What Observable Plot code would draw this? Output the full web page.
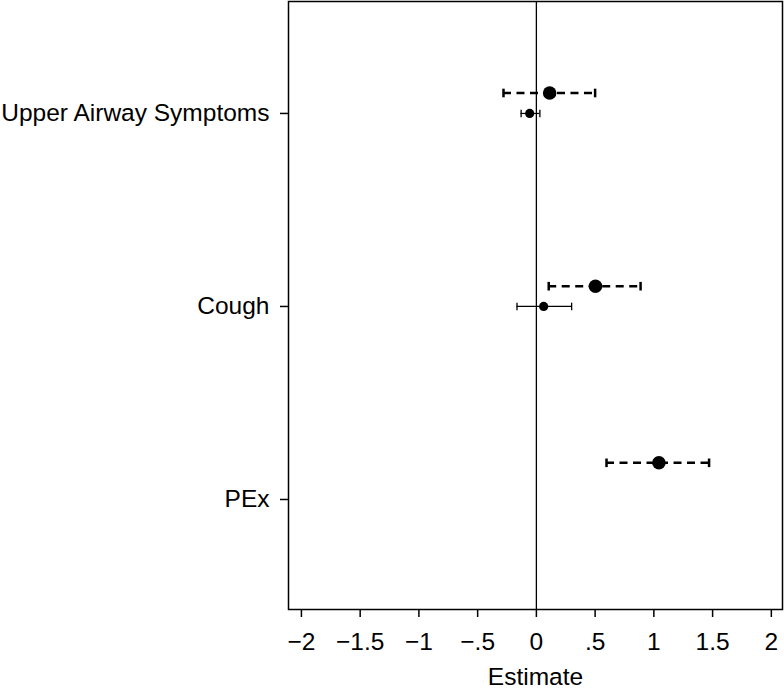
<!DOCTYPE html>
<html>
<head>
<meta charset="utf-8">
<script src="https://cdn.jsdelivr.net/npm/d3@7"></script>
<script src="https://cdn.jsdelivr.net/npm/@observablehq/plot@0.6"></script>
<style>
  body { margin: 0; background: #fff; }
  #chart svg { display: block; }
</style>
</head>
<body>
<div id="chart"></div>
<script>
// Categories (y axis) and their positions
const categories = ["Upper Airway Symptoms", "Cough", "PEx"];
const categoryPos = [1, 2, 3];

// Series A (dashed CI, large dot)
const seriesAPos = [0.894, 1.895, 2.81];
const seriesAEst = [0.113, 0.503, 1.043];
const seriesALo = [-0.28, 0.105, 0.597];
const seriesAHi = [0.50, 0.887, 1.47];

// Series B (solid CI, small dot)
const seriesBPos = [1.0, 2.0];
const seriesBEst = [-0.057, 0.062];
const seriesBLo = [-0.13, -0.165];
const seriesBHi = [0.03, 0.30];

// X tick values
const xTicks = [-2, -1.5, -1, -0.5, 0, 0.5, 1, 1.5, 2];

const A = seriesAPos.map((p, i) => ({pos: p, est: seriesAEst[i], lo: seriesALo[i], hi: seriesAHi[i]}));
const B = seriesBPos.map((p, i) => ({pos: p, est: seriesBEst[i], lo: seriesBLo[i], hi: seriesBHi[i]}));

const capSymbol = {
  draw(ctx, size) {
    const h = Math.sqrt(size / Math.PI);
    ctx.moveTo(0, -h);
    ctx.lineTo(0, h);
  }
};

const fmt = d => {
  if (d === 0) return "0";
  const s = String(Math.abs(d)).replace(/^0\./, ".");
  return (d < 0 ? "\u2212" : "") + s;
};

const FS = 24.5;

const chart = Plot.plot({
  width: 784,
  height: 690,
  marginLeft: 288,
  marginRight: 2,
  marginTop: 1,
  marginBottom: 81,
  style: {fontFamily: "'Liberation Sans', Arial, Helvetica, sans-serif", fontSize: FS + "px", color: "#000", background: "#fff"},
  x: {domain: [-2.11, 2.095]},
  y: {domain: [0.42, 3.57], reverse: true},
  marks: [
    Plot.frame({stroke: "#000", strokeWidth: 1.5}),
    Plot.ruleX([0], {stroke: "#000", strokeWidth: 1.3}),
    Plot.axisX({ticks: xTicks, tickFormat: fmt, tickSize: 8, tickPadding: 15, fontSize: FS, strokeWidth: 1.5, label: null}),
    Plot.axisY({ticks: categoryPos, tickFormat: d => categories[d - 1], tickSize: 8, tickPadding: 11, fontSize: FS, strokeWidth: 1.5, label: null}),
    Plot.text(["Estimate"], {frameAnchor: "bottom", lineAnchor: "middle", dy: 67.5, fontSize: FS, fill: "#000"}),
    // Series A: dashed CI
    Plot.ruleY(A, {y: "pos", x1: "lo", x2: "hi", stroke: "#000", strokeWidth: 2.5, strokeDasharray: "8,5.5"}),
    Plot.dot(A, {x: "lo", y: "pos", symbol: capSymbol, r: 4.3, stroke: "#000", strokeWidth: 2.5, fill: "none"}),
    Plot.dot(A, {x: "hi", y: "pos", symbol: capSymbol, r: 4.3, stroke: "#000", strokeWidth: 2.5, fill: "none"}),
    Plot.dot(A, {x: "est", y: "pos", r: 6.8, fill: "#000", stroke: "none"}),
    // Series B: solid CI
    Plot.ruleY(B, {y: "pos", x1: "lo", x2: "hi", stroke: "#000", strokeWidth: 1.2}),
    Plot.dot(B, {x: "lo", y: "pos", symbol: capSymbol, r: 3.8, stroke: "#000", strokeWidth: 1.3, fill: "none"}),
    Plot.dot(B, {x: "hi", y: "pos", symbol: capSymbol, r: 3.8, stroke: "#000", strokeWidth: 1.3, fill: "none"}),
    Plot.dot(B, {x: "est", y: "pos", r: 4.6, fill: "#000", stroke: "none"})
  ]
});
document.getElementById("chart").appendChild(chart);
</script>
</body>
</html>
